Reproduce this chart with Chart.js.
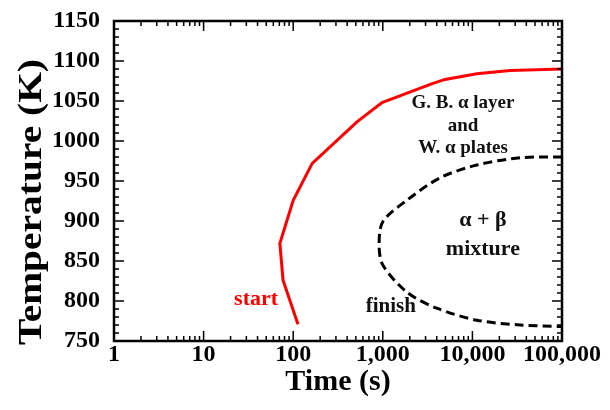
<!DOCTYPE html>
<html>
<head>
<meta charset="utf-8">
<script src="https://cdn.jsdelivr.net/npm/chart.js@4.4.0/dist/chart.umd.min.js"></script>
<style>
  html, body { margin: 0; padding: 0; background: #fff; }
  #wrap { width: 610px; height: 410px; }
</style>
</head>
<body>
<div id="wrap"><canvas id="cctChart"></canvas></div>
<script>
// courbe de début (rouge) et de fin (pointillés)
const startTime = [113, 77, 71, 100, 163, 515, 980, 3630, 4950, 11200, 26300, 100000];
const startTemp = [771, 826, 872, 926, 972, 1024, 1048, 1072, 1077, 1084, 1088, 1090];
const finishTime = [100000, 34000, 11200, 4360, 1860, 1000, 910, 1000, 1860, 4000, 11200, 34000, 100000];
const finishTemp = [980, 979, 970, 954, 926, 899, 870, 845, 811, 791, 776, 770, 768];
const timeTicks = [1, 10, 100, 1000, 10000, 100000];
const tempTicks = [750, 800, 850, 900, 950, 1000, 1050, 1100, 1150];

// textes dans le graphique (coordonnées en données)
const labels = [
    { text: 'G. B. \u03b1 layer', x: 7850, y: 1041, size: 19, color: '#111' },
    { text: 'and', x: 7850, y: 1012.5, size: 19, color: '#111' },
    { text: 'W. \u03b1 plates', x: 7850, y: 985, size: 19, color: '#111' },
    { text: '\u03b1 + \u03b2', x: 13100, y: 894, size: 22, color: '#111' },
    { text: 'mixture', x: 13100, y: 857.5, size: 22, color: '#111' },
    { text: 'finish', x: 1230, y: 786, size: 21, color: '#111' },
    { text: 'start', x: 38.5, y: 795, size: 22, color: '#ff0000' }
];

const serif = '"Liberation Serif", "Times New Roman", serif';

const framePlugin = {
    id: 'frame',
    afterDraw(chart) {
        const { ctx, chartArea: a, scales } = chart;
        const xs = scales.x, ys = scales.y;
        ctx.save();
        ctx.strokeStyle = '#000';
        ctx.lineWidth = 1.5;
        ctx.beginPath();
        // ticks x (majeurs + mineurs), en haut et en bas
        for (let d = 1; d <= 100000; d *= 10) {
            for (let k = 1; k <= 9; k++) {
                const v = d * k;
                if (v > 100000) break;
                const px = xs.getPixelForValue(v);
                const len = k === 1 ? 10 : 5;
                ctx.moveTo(px, a.bottom); ctx.lineTo(px, a.bottom - len);
                ctx.moveTo(px, a.top); ctx.lineTo(px, a.top + len);
            }
        }
        // ticks y, tous les 10 K
        for (let v = 750; v <= 1150; v += 10) {
            const py = ys.getPixelForValue(v);
            const len = v % 50 === 0 ? 10 : 5;
            ctx.moveTo(a.left, py); ctx.lineTo(a.left + len, py);
            ctx.moveTo(a.right, py); ctx.lineTo(a.right - len, py);
        }
        ctx.stroke();
        ctx.lineWidth = 2.5;
        ctx.strokeRect(a.left, a.top, a.right - a.left, a.bottom - a.top);

        // annotations
        ctx.textAlign = 'center';
        ctx.textBaseline = 'alphabetic';
        labels.forEach(l => {
            ctx.fillStyle = l.color;
            ctx.font = 'bold ' + l.size + 'px ' + serif;
            ctx.fillText(l.text, xs.getPixelForValue(l.x), ys.getPixelForValue(l.y));
        });

        // titres des axes
        ctx.fillStyle = '#000';
        ctx.font = 'bold 30px ' + serif;
        ctx.fillText('Time (s)', (a.left + a.right) / 2, 390);
        ctx.translate(41, 202);
        ctx.rotate(-Math.PI / 2);
        ctx.scale(1.16, 1);
        ctx.font = 'bold 34px ' + serif;
        ctx.fillText('Temperature (K)', 0, 0);
        ctx.restore();
    }
};

const ctx = document.getElementById('cctChart').getContext('2d');
new Chart(ctx, {
    type: 'scatter',
    data: {
        datasets: [{
            label: 'start',
            data: startTime.map((t, i) => ({ x: t, y: startTemp[i] })),
            showLine: true,
            borderColor: '#ff0000',
            borderWidth: 3,
            pointRadius: 0,
            tension: 0
        }, {
            label: 'finish',
            data: finishTime.map((t, i) => ({ x: t, y: finishTemp[i] })),
            showLine: true,
            borderColor: '#000',
            borderWidth: 3,
            borderDash: [9, 5],
            pointRadius: 0,
            tension: 0.3
        }]
    },
    options: {
        responsive: true,
        maintainAspectRatio: false,
        animation: false,
        layout: { padding: { top: 21, right: 48, left: 0, bottom: 0 } },
        plugins: { legend: { display: false }, tooltip: { enabled: false } },
        scales: {
            x: {
                type: 'logarithmic',
                min: 1,
                max: 100000,
                afterBuildTicks: s => { s.ticks = timeTicks.map(v => ({ value: v })); },
                afterFit: s => { s.height = 69; },
                grid: { display: false },
                border: { display: false },
                ticks: {
                    autoSkip: false,
                    maxRotation: 0,
                    padding: -9,
                    color: '#000',
                    font: { family: serif, size: 24, weight: 'bold' },
                    callback: value => Number(value).toLocaleString('en-US')
                }
            },
            y: {
                min: 750,
                max: 1150,
                afterBuildTicks: s => { s.ticks = tempTicks.map(v => ({ value: v })); },
                afterFit: s => { s.width = 114; },
                grid: { display: false },
                border: { display: false },
                ticks: {
                    padding: 6,
                    color: '#000',
                    font: { family: serif, size: 24, weight: 'bold' },
                    callback: value => String(value)
                }
            }
        }
    },
    plugins: [framePlugin]
});
</script>
</body>
</html>
